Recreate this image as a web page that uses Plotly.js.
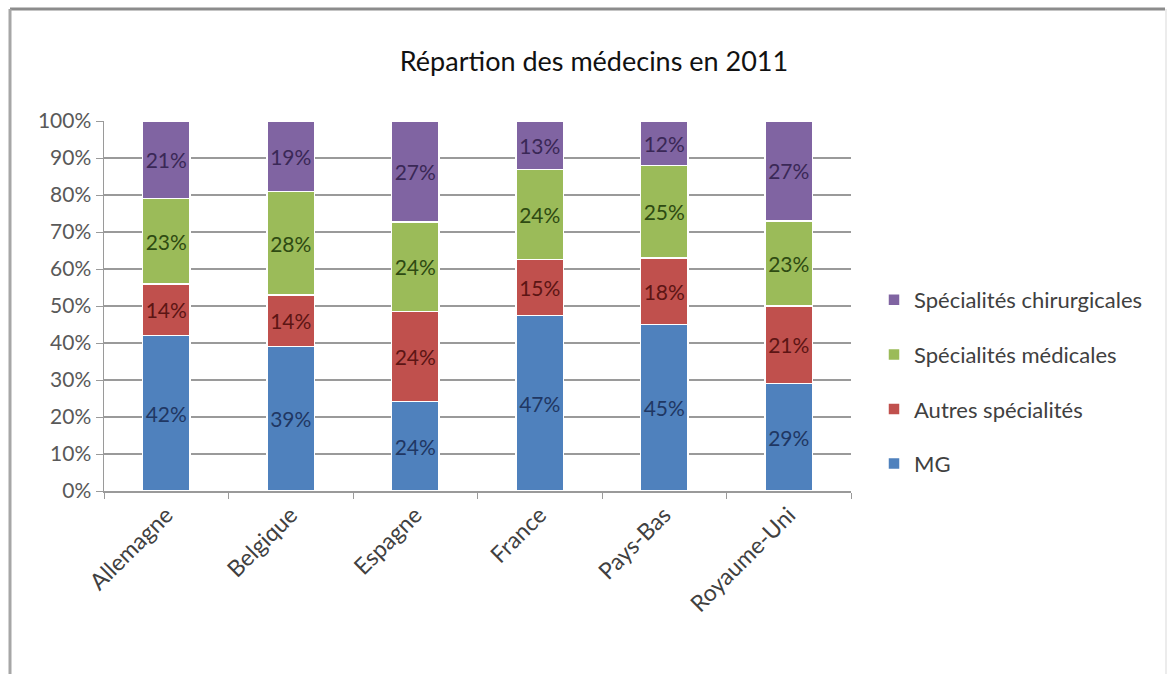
<!DOCTYPE html>
<html>
<head>
<meta charset="utf-8">
<script src="https://cdn.plot.ly/plotly-3.0.1.min.js"></script>
<style>
html,body{margin:0;padding:0;background:#fff;}
#chart{width:1169px;height:674px;}
</style>
</head>
<body>
<div id="chart"></div>
<script>
const countries = ["Allemagne", "Belgique", "Espagne", "France", "Pays-Bas", "Royaume-Uni"];
const seriesNames = ["MG", "Autres spécialités", "Spécialités médicales", "Spécialités chirurgicales"];
const mg = [42, 39, 24, 47, 45, 29];
const autres = [14, 14, 24, 15, 18, 21];
const medicales = [23, 28, 24, 24, 25, 23];
const chirurgicales = [21, 19, 27, 13, 12, 27];
const yTicks = [0, 10, 20, 30, 40, 50, 60, 70, 80, 90, 100];

const seriesValues = [mg, autres, medicales, chirurgicales];
const barColors = ["#4f81bd", "#c0504d", "#9bbb59", "#8064a2"];
const textColors = ["#1f3763", "#5c1514", "#2e4a12", "#3a2856"];
const FONT = "Lato, 'Open Sans', sans-serif";

const traces = seriesValues.map((vals, i) => ({
  type: "bar",
  name: seriesNames[i],
  x: countries,
  y: vals,
  text: vals.map(v => v + "%"),
  textposition: "inside",
  insidetextanchor: "middle",
  textangle: 0,
  constraintext: "none",
  textfont: {family: FONT, size: 21, color: textColors[i]},
  marker: {color: barColors[i], line: {color: "#ffffff", width: 1.5}},
  legendgroup: "g" + i,
  legendrank: 4 - i,
  hoverinfo: "skip"
}));

const L = 104, R = 851, T = 121, B = 491;
const W = R - L, H = B - T;
const px = v => (v - L) / W;
const py = v => (B - v) / H;

const layout = {
  width: 1169,
  height: 674,
  margin: {l: L, r: 1169 - R, t: T, b: 674 - B},
  paper_bgcolor: "#ffffff",
  plot_bgcolor: "#ffffff",
  barmode: "stack",
  barnorm: "percent",
  bargap: 0.62,
  title: {
    text: "Répartion des médecins en 2011",
    font: {family: FONT, size: 27, color: "#111111"},
    x: 594 / 1169, xanchor: "center",
    y: 1 - 62 / 674, yanchor: "middle"
  },
  xaxis: {
    type: "category",
    showgrid: false,
    showline: true,
    linecolor: "#9a9a9a",
    linewidth: 1.5,
    ticks: "outside",
    tickson: "boundaries",
    ticklen: 6,
    tickcolor: "#9a9a9a",
    tickangle: -45,
    tickfont: {family: FONT, size: 23, color: "#404040"}
  },
  yaxis: {
    range: [0, 100],
    tickvals: yTicks,
    ticktext: yTicks.map(v => v + "%"),
    showgrid: true,
    gridcolor: "#9a9a9a",
    gridwidth: 1.2,
    showline: true,
    linecolor: "#9a9a9a",
    linewidth: 1.5,
    ticks: "outside",
    ticklen: 7,
    tickcolor: "#9a9a9a",
    zeroline: false,
    tickfont: {family: FONT, size: 21, color: "#595959"}
  },
  legend: {
    traceorder: "grouped",
    tracegroupgap: 23,
    x: px(874), xanchor: "left",
    y: py(279), yanchor: "top",
    font: {family: FONT, size: 22, color: "#404040"},
    itemwidth: 30,
    bgcolor: "rgba(0,0,0,0)"
  },
  shapes: [
    {type: "line", xref: "paper", yref: "paper", x0: px(10), x1: px(1165), y0: py(9), y1: py(9), line: {color: "#8c8c8c", width: 3}},
    {type: "line", xref: "paper", yref: "paper", x0: px(10), x1: px(10), y0: py(9), y1: py(700), line: {color: "#a6a6a6", width: 3}},
    {type: "line", xref: "paper", yref: "paper", x0: px(1166), x1: px(1166), y0: py(9), y1: py(700), line: {color: "#ececec", width: 2}}
  ],
  showlegend: true
};

Plotly.newPlot("chart", traces, layout, {displayModeBar: false, staticPlot: true});
</script>
</body>
</html>
